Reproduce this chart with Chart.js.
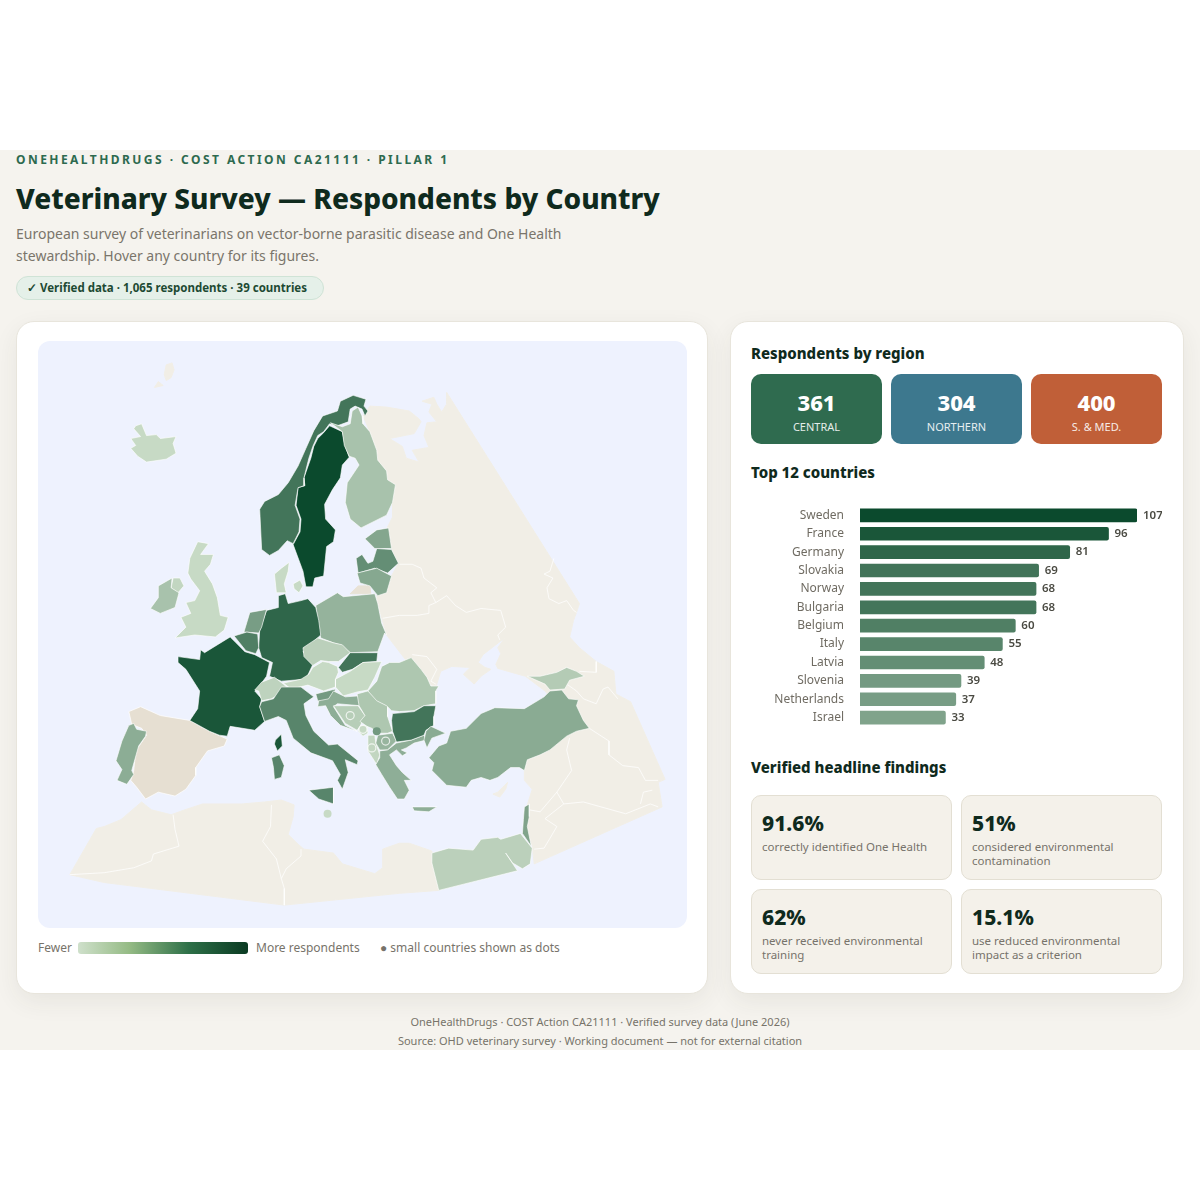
<!DOCTYPE html>
<html>
<head>
<meta charset="utf-8">
<title>Veterinary Survey</title>
<script src="https://cdn.jsdelivr.net/npm/chart.js@4"></script>
<style>
html, body { margin: 0; padding: 0; background: #fff; }
body { width: 1200px; height: 1200px; position: relative; overflow: hidden; font-family: "Noto Sans", sans-serif; }
#page { position: absolute; left: 0; top: 150px; width: 1200px; height: 900px; background: #f5f3ee; }
.t { position: absolute; white-space: nowrap; }
.eyebrow { left: 16px; top: 152px; line-height: 16px; font-size: 12px; font-weight: 700; letter-spacing: 2.45px; color: #2d6a4f; }
h1 { margin: 0; left: 16px; top: 178px; line-height: 40px; font-size: 28px; font-weight: 800; color: #0f2a1d; }
.sub { left: 16px; font-size: 14px; line-height: 22px; color: #7a756b; }
.badge { left: 16px; top: 276px; width: 306px; height: 22px; line-height: 22px; border: 1px solid #cfe3d6; border-radius: 12px; background: #e5f0e9;
  font-size: 11.5px; font-weight: 700; color: #1d4a33; text-indent: 10px; }
.card { position: absolute; top: 321px; height: 671px; background: #fff; border: 1px solid #e8e5dc; border-radius: 18px; box-shadow: 0 8px 24px rgba(60,60,40,.07); }
#mapPanel { position: absolute; left: 38px; top: 341px; width: 649px; height: 587px; background: #eef2fe; border-radius: 12px; overflow: hidden; }
#legendBar { position: absolute; left: 78px; top: 942px; width: 170px; height: 12px; border-radius: 3px;
  background: linear-gradient(90deg, #cfe0cb, #95bb85 30%, #2e7048 65%, #0a3a22); }
.legend { font-size: 12px; line-height: 16px; top: 940px; color: #77736a; }
h2 { margin: 0; left: 751px; font-size: 15px; line-height: 20px; font-weight: 800; color: #0f2a1d; }
.tile { position: absolute; top: 374px; width: 131px; height: 70px; border-radius: 10px; color: #fff; text-align: center; }
.tile b { display: block; margin-top: 13px; font-size: 22px; line-height: 30px; font-weight: 800; }
.tile span { display: block; font-size: 11px; line-height: 16px; margin-top: 2px; opacity: .88; }
.find { position: absolute; width: 189px; height: 83px; padding: 0 0 0 10px; background: #f4f1ea; border: 1px solid #e3dfd3; border-radius: 10px; }
.find b { display: block; margin-top: 13px; font-size: 21px; line-height: 28px; font-weight: 800; color: #0f2a1d; }
.find span { display: block; font-size: 11.5px; line-height: 14px; margin-top: 3px; color: #77736a; width: 185px; }
.foot { left: 0; width: 1200px; text-align: center; font-size: 11px; line-height: 16px; color: #77736a; }
</style>
</head>
<body>
<div id="page"></div>
<div class="t eyebrow">ONEHEALTHDRUGS · COST ACTION CA21111 · PILLAR 1</div>
<h1 class="t">Veterinary Survey — Respondents by Country</h1>
<div class="t sub" style="top:223px">European survey of veterinarians on vector-borne parasitic disease and One Health</div>
<div class="t sub" style="top:245px">stewardship. Hover any country for its figures.</div>
<div class="t badge">✓ Verified data · 1,065 respondents · 39 countries</div>

<div class="card" style="left:16px;width:690px"></div>
<div class="card" style="left:730px;width:452px"></div>

<div id="mapPanel"><canvas id="mapChart" width="649" height="587"></canvas></div>
<div class="t legend" style="left:38px">Fewer</div>
<div id="legendBar"></div>
<div class="t legend" style="left:256px">More respondents</div>
<div class="t legend" style="left:380px">● small countries shown as dots</div>

<h2 class="t" style="top:343px">Respondents by region</h2>
<div id="tiles"></div>
<h2 class="t" style="top:462px">Top 12 countries</h2>
<div style="position:absolute;left:751px;top:491px;width:411px;height:251px"><canvas id="barChart" width="411" height="251"></canvas></div>
<h2 class="t" style="top:757px">Verified headline findings</h2>
<div id="finds"></div>

<div class="t foot" style="top:1014px">OneHealthDrugs · COST Action CA21111 · Verified survey data (June 2026)</div>
<div class="t foot" style="top:1033px">Source: OHD veterinary survey · Working document — not for external citation</div>

<script>
// top 12 bars
const topCountries = ['Sweden', 'France', 'Germany', 'Slovakia', 'Norway', 'Bulgaria', 'Belgium', 'Italy', 'Latvia', 'Slovenia', 'Netherlands', 'Israel'];
const topValues = [107, 96, 81, 69, 68, 68, 60, 55, 48, 39, 37, 33];

const regionLabels = ['CENTRAL', 'NORTHERN', 'S. & MED.'];
const regionValues = [361, 304, 400];

const findingValues = ['91.6%', '51%', '62%', '15.1%'];
const findingLabels = ['correctly identified One Health', 'considered environmental contamination', 'never received environmental training', 'use reduced environmental impact as a criterion'];

// country outlines in map units
const sweden = [[329,422],[342,428],[345,443],[349,454],[342,462],[340,475],[332,487],[324,502],[325,517],[335,528],[333,540],[326,545],[323,575],[314,577],[312,586],[305,586],[302,570],[292,543],[299,530],[300,517],[295,503],[297,485],[304,483],[303,475],[310,455],[313,443],[317,435],[323,429]];
const norway = [[353,391],[366,395],[364,402],[368,407],[365,412],[362,405],[355,402],[350,405],[348,418],[337,422],[329,420],[323,428],[317,432],[312,443],[308,455],[303,475],[303,483],[297,485],[294,503],[299,517],[298,530],[292,542],[286,539],[277,549],[268,554],[260,548],[258,507],[263,499],[277,492],[287,480],[297,463],[305,445],[313,427],[322,412],[337,407],[340,397]];
const finland = [[330,419],[342,423],[350,420],[352,407],[358,403],[362,412],[363,420],[370,428],[377,447],[378,457],[387,468],[388,477],[396,482],[393,500],[387,513],[361,526],[350,517],[345,500],[347,480],[359,462],[355,455],[349,453],[344,442],[342,428]];
const iceland = [[132,422],[138,420],[143,432],[153,431],[157,435],[173,433],[170,440],[173,450],[163,456],[143,459],[134,453],[127,445],[132,442],[127,435],[137,433],[130,425]];
const greatBritain = [[195,540],[206,542],[198,553],[211,553],[208,563],[202,570],[210,583],[215,597],[218,615],[226,617],[222,630],[213,637],[192,635],[172,638],[183,627],[178,617],[188,613],[183,602],[192,600],[197,590],[188,578],[185,572],[187,557]];
const northernIreland = [[170,577],[177,577],[181,585],[175,592],[168,587]];
const ireland = [[155,585],[169,577],[168,587],[176,592],[172,607],[157,613],[147,608],[155,597]];
const jutland = [[288,561],[287,570],[283,583],[285,592],[275,592],[273,573],[280,567]];
const zealand = [[299,579],[302,585],[298,592],[293,588],[292,583]];
const estonia = [[365,537],[377,528],[389,526],[392,547],[375,547]];
const latvia = [[356,557],[362,553],[368,562],[373,560],[377,547],[392,548],[399,562],[388,572],[375,567],[358,572]];
const lithuania = [[357,572],[377,567],[392,575],[387,592],[378,595],[370,585],[360,582]];
const poland = [[315,605],[337,592],[343,596],[375,593],[378,603],[380,613],[382,623],[387,635],[385,633],[378,652],[350,653],[340,645],[333,643],[320,638],[317,620]];
const germany = [[277,595],[284,593],[287,603],[300,600],[307,598],[315,607],[318,620],[320,635],[302,652],[312,665],[305,680],[280,682],[268,677],[271,663],[260,658],[257,648],[258,630],[265,610],[277,607]];
const netherlands = [[248,612],[265,609],[260,627],[257,633],[242,632]];
const belgium = [[232,636],[245,632],[256,634],[257,648],[254,654],[244,651]];
const france = [[175,657],[197,660],[198,650],[202,653],[228,637],[233,642],[243,652],[253,655],[268,663],[265,677],[257,688],[253,692],[260,700],[258,708],[263,723],[253,732],[228,728],[225,738],[217,737],[207,733],[187,722],[195,710],[197,692],[183,670],[175,663]];
const corsica = [[274,742],[280,736],[281,748],[276,753],[273,746]];
const spain = [[125,713],[137,708],[157,717],[187,722],[207,733],[225,741],[222,748],[205,753],[193,770],[193,778],[183,792],[172,799],[155,795],[142,802],[133,790],[127,783],[130,773],[132,753],[143,737],[138,730],[128,726]];
const portugal = [[125,727],[130,725],[133,731],[143,733],[142,738],[135,748],[128,773],[130,777],[123,787],[113,783],[118,772],[112,763],[118,743]];
const czechia = [[302,648],[317,638],[333,643],[342,645],[350,653],[338,662],[328,662],[320,661],[312,666],[303,657]];
const slovakia = [[338,668],[350,653],[378,653],[377,662],[363,663],[352,670],[342,673]];
const hungary = [[335,680],[350,672],[363,663],[382,662],[375,678],[368,691],[357,693],[343,697],[335,688]];
const austria = [[282,684],[300,680],[308,675],[312,668],[322,662],[328,663],[337,667],[338,673],[335,680],[335,688],[323,692],[307,686],[290,690]];
const switzerland = [[253,691],[260,683],[273,678],[282,685],[288,690],[278,695],[270,700],[260,702],[257,692]];
const italy = [[260,703],[272,700],[280,688],[300,688],[313,698],[303,705],[305,717],[313,733],[328,747],[337,746],[358,763],[357,767],[345,762],[348,775],[342,792],[337,783],[340,777],[332,763],[310,755],[292,740],[285,722],[277,718],[263,723],[258,708]];
const sicily = [[308,793],[333,790],[333,807],[318,802]];
const sardinia = [[270,760],[278,757],[283,768],[280,780],[273,782],[272,770]];
const slovenia = [[315,695],[335,690],[332,700],[322,703],[317,702]];
const croatia = [[317,708],[318,702],[328,700],[333,692],[345,698],[358,697],[360,707],[337,705],[333,708],[345,727],[357,733],[340,727],[330,717],[325,707]];
const bosnia = [[333,707],[358,707],[365,717],[360,728],[357,732],[345,725]];
const serbia = [[357,695],[368,692],[378,702],[388,707],[388,718],[393,733],[388,735],[378,735],[372,730],[367,728],[360,723],[365,717],[359,707]];
const montenegro = [[360,728],[367,728],[368,735],[363,738],[358,733]];
const albania = [[368,737],[375,737],[376,745],[380,757],[377,767],[368,753]];
const macedonia = [[378,737],[393,735],[397,743],[388,752],[380,752],[376,745]];
const greece = [[380,753],[388,752],[397,745],[412,742],[425,737],[427,742],[415,745],[407,750],[402,752],[408,755],[403,758],[397,752],[390,757],[397,768],[403,775],[412,783],[405,783],[410,793],[405,802],[398,802],[390,790],[382,777],[376,767],[380,760]];
const crete = [[413,810],[438,810],[430,815],[415,814]];
const romania = [[382,667],[390,663],[400,663],[412,658],[422,670],[428,678],[432,687],[440,687],[437,692],[437,705],[425,707],[415,712],[400,713],[392,712],[387,707],[377,702],[368,692],[377,682]];
const bulgaria = [[393,715],[415,713],[425,707],[437,707],[435,718],[435,727],[427,732],[425,737],[412,742],[397,744],[393,733],[392,722]];
const turkey = [[468,730],[483,715],[497,709],[527,710],[547,698],[553,692],[565,691],[572,700],[582,701],[580,707],[587,722],[593,730],[580,733],[570,738],[553,752],[543,757],[530,762],[527,773],[522,770],[513,770],[500,780],[492,783],[483,780],[473,783],[468,790],[448,788],[433,773],[435,765],[430,760],[440,748],[448,745],[452,733]];
const thrace = [[427,733],[432,728],[447,735],[433,740],[428,750],[425,742]];
const georgia = [[530,677],[543,677],[560,673],[570,668],[580,672],[588,677],[573,681],[568,690],[553,691],[548,685]];
const egypt = [[433,857],[450,852],[475,854],[483,843],[500,841],[503,843],[523,837],[535,852],[533,868],[525,873],[515,867],[508,857],[520,875],[440,895],[433,867]];
const israel = [[527,810],[532,807],[532,820],[530,830],[534,850],[525,837],[526,823]];

// countries with no colour on the map
const eastLand = [[370,402],[387,403],[410,407],[420,415],[422,418],[415,430],[390,435],[403,443],[407,455],[420,459],[413,447],[430,444],[425,432],[428,419],[438,418],[430,408],[433,400],[423,397],[435,393],[438,400],[443,408],[448,400],[448,388],[583,603],[580,612],[577,620],[573,637],[583,648],[600,662],[618,672],[620,695],[635,703],[670,782],[663,785],[667,810],[537,868],[535,850],[528,827],[530,808],[535,792],[527,783],[527,765],[570,720],[548,692],[528,677],[500,669],[498,665],[503,654],[500,648],[507,638],[485,655],[480,663],[487,668],[493,670],[483,677],[476,685],[465,675],[472,668],[453,667],[442,672],[438,685],[437,690],[410,665],[387,635],[378,603],[377,595],[392,575],[399,562],[392,547],[388,525],[393,515],[393,500],[388,477],[378,457],[370,428],[363,412]];
const northAfrica = [[65,879],[92,832],[100,830],[117,823],[138,805],[148,813],[168,818],[182,813],[200,807],[240,807],[263,805],[280,803],[293,808],[292,820],[287,838],[297,848],[303,853],[333,857],[342,868],[375,878],[383,872],[383,853],[400,847],[410,847],[433,855],[440,895],[400,898],[283,910],[100,887]];
const kaliningrad = [[350,593],[358,585],[370,585],[371,593]];
const cyprus = [[500,795],[510,785],[508,792],[502,800],[495,797]];
const svalbardA = [[163,360],[169,358],[171,365],[168,373],[163,376],[161,370]];
const svalbardB = [[155,377],[160,381],[151,383]];

// thin border lines inside the unshaded land
const borderLines = [
  [[400,563],[413,563],[422,567],[425,577],[438,587],[432,592],[437,602],[448,595],[457,605],[468,612],[483,608],[503,610],[508,627],[500,635],[502,640]],
  [[383,618],[400,615],[418,615],[430,613],[430,605],[437,602]],
  [[557,557],[553,570],[547,573],[556,577],[550,587],[552,598],[562,603],[570,600],[577,610],[580,612]],
  [[413,655],[428,657],[438,670],[432,682],[437,685]],
  [[593,730],[613,743],[613,757],[627,768],[643,770],[650,783],[663,783]],
  [[573,740],[570,752],[575,773],[560,795],[543,815],[532,813]],
  [[560,795],[567,807],[587,805],[630,817],[655,807],[663,810]],
  [[567,807],[548,822],[560,830],[553,842],[547,852],[537,853]],
  [[645,807],[648,795],[657,793]],
  [[570,685],[580,692],[587,700],[600,705],[607,690],[612,688],[622,700]],
  [[600,662],[600,673],[583,672]],
  [[170,818],[172,833],[176,850],[150,858],[148,865],[130,872],[100,877],[65,879]],
  [[270,808],[269,830],[261,845],[275,863],[280,883],[283,893],[283,910]],
  [[280,883],[285,873],[300,860],[300,853]]
];

// shaded countries: estimated respondents
const mapShapes = [
  [sweden, 107], [norway, 68], [finland, 15], [iceland, 6], [greatBritain, 6], [northernIreland, 7], [ireland, 15],
  [jutland, 6], [zealand, 6], [estonia, 31], [latvia, 48], [lithuania, 30], [poland, 23], [germany, 81], [netherlands, 37],
  [belgium, 60], [france, 96], [corsica, 96], [portugal, 27], [czechia, 9], [slovakia, 69], [hungary, 6], [austria, 6],
  [switzerland, 8], [italy, 55], [sicily, 55], [sardinia, 55], [slovenia, 39], [croatia, 26], [bosnia, 10], [serbia, 13],
  [montenegro, 6], [albania, 7], [macedonia, 22], [greece, 26], [crete, 26], [romania, 13], [bulgaria, 68], [turkey, 28],
  [thrace, 28], [georgia, 11], [egypt, 9], [israel, 33]
];

// small countries drawn as dots
const dotNames = ['Bosnia', 'Montenegro', 'Kosovo', 'N. Macedonia', 'Albania', 'Malta'];
const dotX = [350, 363, 377, 386, 372, 327];
const dotY = [717, 731, 733, 743, 750, 817];
const dotValues = [10, 6, 40, 22, 7, 6];

function shade(v) {
  let t = Math.pow(Math.min(Math.max((v - 5) / 102, 0), 1), 0.7);
  let r = Math.round(207 - 196 * t), g = Math.round(224 - 150 * t), b = Math.round(203 - 158 * t);
  return 'rgb(' + r + ',' + g + ',' + b + ')';
}

function toPoints(shape) {
  return shape.concat([shape[0]]).map(function (p) { return { x: p[0], y: p[1] }; });
}

function area(shape, color, line) {
  return { data: toPoints(shape), showLine: true, fill: 'shape', backgroundColor: color, borderColor: line, borderWidth: 1, pointRadius: 0, borderJoinStyle: 'round' };
}

let layers = [];
// background land first
layers.push(area(eastLand, '#f1eee6', '#f1eee6'));
layers.push(area(northAfrica, '#f1eee6', '#f1eee6'));
layers.push(area(svalbardA, '#f1eee6', '#f1eee6'));
layers.push(area(svalbardB, '#f1eee6', '#f1eee6'));
layers.push(area(cyprus, '#f1eee6', '#f1eee6'));
layers.push(area(kaliningrad, '#e8e2d6', '#e8e2d6'));
layers.push(area(spain, '#e6dfd2', 'rgba(255,255,255,.7)'));
borderLines.forEach(function (l) {
  layers.push({ data: l.map(function (p) { return { x: p[0], y: p[1] }; }), showLine: true, fill: false, borderColor: 'rgba(255,255,255,.75)', borderWidth: 1, pointRadius: 0 });
});
mapShapes.forEach(function (s) {
  layers.push(area(s[0], shade(s[1]), 'rgba(255,255,255,.62)'));
});
// halo + dot
layers.push({ data: dotX.map(function (x, i) { return { x: x, y: dotY[i] }; }), showLine: false, pointRadius: 4, pointBorderWidth: 1.2,
  pointBorderColor: dotNames.map(function (n) { return n == 'Malta' || n == 'Kosovo' ? 'rgba(255,255,255,0)' : 'rgba(255,255,255,.75)'; }),
  pointBackgroundColor: dotValues.map(shade) });
layers.forEach(function (d, i) { d.order = layers.length - i; });

new Chart(document.getElementById('mapChart'), {
  type: 'scatter',
  data: { datasets: layers },
  options: {
    responsive: false,
    animation: false,
    events: [],
    plugins: { legend: { display: false }, tooltip: { enabled: false } },
    scales: {
      x: { type: 'linear', display: false, min: 38, max: 687 },
      y: { type: 'linear', display: false, min: 341, max: 928, reverse: true }
    }
  }
});

const valueLabels = {
  id: 'valueLabels',
  afterDatasetsDraw(chart) {
    let ctx = chart.ctx;
    ctx.save();
    ctx.font = '600 11.5px "Noto Sans"';
    ctx.fillStyle = '#4a4a42';
    ctx.textBaseline = 'middle';
    chart.getDatasetMeta(0).data.forEach(function (bar, i) {
      ctx.fillText(topValues[i], bar.x + 6, bar.y);
    });
    ctx.restore();
  }
};

new Chart(document.getElementById('barChart'), {
  type: 'bar',
  data: {
    labels: topCountries,
    datasets: [{ data: topValues, backgroundColor: topValues.map(shade), borderRadius: 2, barThickness: 13 }]
  },
  options: {
    indexAxis: 'y',
    responsive: false,
    animation: false,
    layout: { padding: { right: 25, top: 0, bottom: 0, left: 0 } },
    plugins: { legend: { display: false }, tooltip: { enabled: false } },
    scales: {
      x: { display: false, min: 0, max: 107 },
      y: {
        grid: { display: false },
        border: { display: false },
        afterFit: function (s) { s.width = 109; },
        ticks: { color: '#6f6b62', padding: 8, autoSkip: false, font: { family: 'Noto Sans', size: 12 } }
      }
    }
  },
  plugins: [valueLabels]
});

// tiles
const tileLeft = [751, 891, 1031];
const tileColors = ['#2f6b4f', '#3d788e', '#c05f38'];
regionValues.forEach(function (v, i) {
  let d = document.createElement('div');
  d.className = 'tile';
  d.style.left = tileLeft[i] + 'px';
  d.style.background = tileColors[i];
  d.innerHTML = '<b>' + v + '</b><span>' + regionLabels[i] + '</span>';
  document.getElementById('tiles').appendChild(d);
});
findingValues.forEach(function (v, i) {
  let d = document.createElement('div');
  d.className = 'find';
  d.style.left = (i % 2 ? 961 : 751) + 'px';
  d.style.top = (i < 2 ? 795 : 889) + 'px';
  d.innerHTML = '<b>' + v + '</b><span>' + findingLabels[i] + '</span>';
  document.getElementById('finds').appendChild(d);
});
</script>
</body>
</html>
